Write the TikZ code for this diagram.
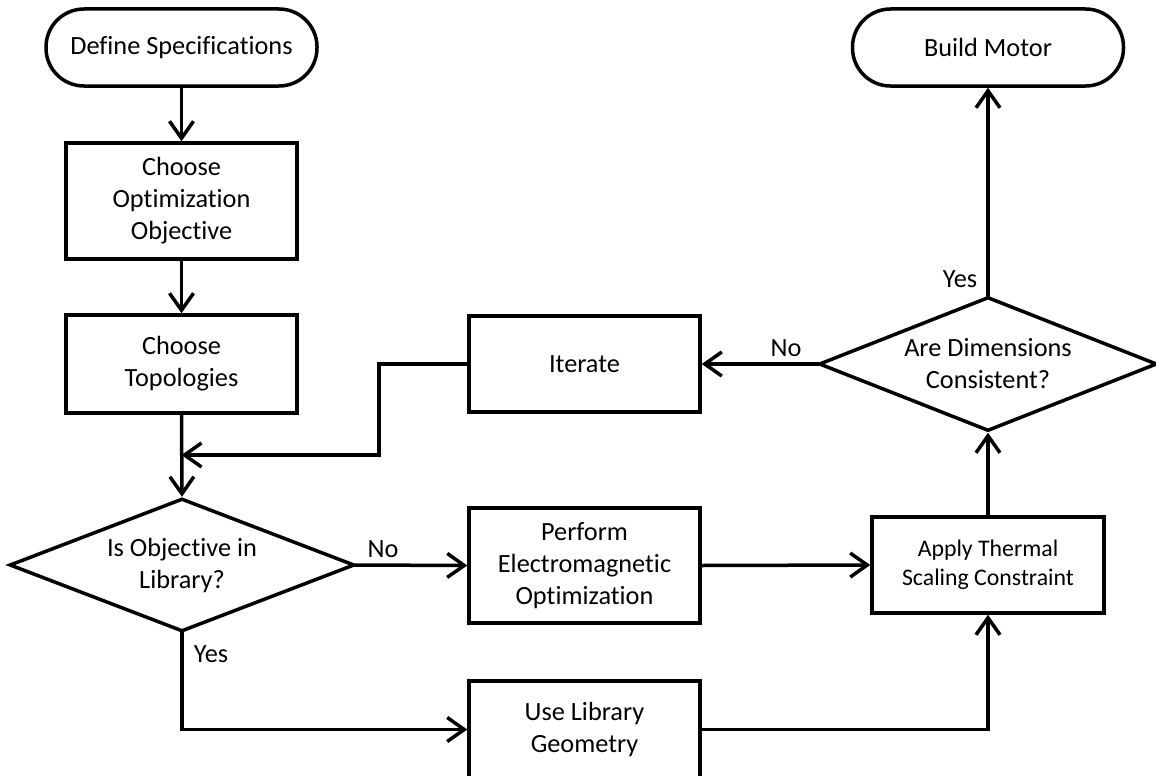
\documentclass[tikz,border=0pt]{standalone}
\usepackage{fontspec}
\setmainfont{Carlito}[Ligatures={NoCommon}]
\usetikzlibrary{shapes.geometric,arrows.meta}
\begin{document}
\begin{tikzpicture}[x=1pt,y=-1pt,
  every node/.style={font=\fontsize{26.3}{32}\selectfont, align=center, inner sep=0pt},
  base/.style={draw=black, line width=3.5pt, fill=white},
  proc/.style={base, rectangle, minimum width=231pt},
  term/.style={base, rectangle, rounded corners=38pt, minimum width=271pt, minimum height=77pt},
  dia/.style={base, diamond},
  arr/.style={line width=3.5pt, line cap=rect, -{Straight Barb[length=17pt, width=24pt, line width=3.5pt]}},
  small/.style={font=\fontsize{23.8}{28.5}\selectfont},
  lbl/.style={font=\fontsize{26.3}{32}\selectfont}
]
\useasboundingbox (0,0) rectangle (1156,776);
\clip (0,0) rectangle (1156,776);

% left column
\node[term] (spec) at (181.5,47.5) {Define Specifications};
\node[proc, minimum height=116pt] (obj) at (181.5,201) {Choose\\Optimization\\Objective};
\node[proc, minimum height=98pt] (topo) at (181.5,364) {Choose\\Topologies};
\node[dia, minimum width=345pt, minimum height=133pt] (lib) at (182,565) {};
\node at (lib) {Is Objective in\\Library?};

% middle column
\node[proc, minimum height=96pt] (iter) at (584.5,364) {Iterate};
\node[proc, minimum height=115pt] (em) at (584.5,565.5) {Perform\\Electromagnetic\\Optimization};
\node[proc, minimum height=97pt] (geo) at (584.5,729.5) {Use Library\\Geometry};

% right column
\node[term] (build) at (988,47.5) {Build Motor};
\node[dia, minimum width=338pt, minimum height=134pt] (dims) at (988,364) {};
\node at (dims) {Are Dimensions\\Consistent?};
\node[proc, small, minimum width=232pt, minimum height=96pt] (therm) at (988,565) {Apply Thermal\\Scaling Constraint};

% connectors
\coordinate (bend) at (379,455);
\draw[arr] (spec.south) -- (obj.north);
\draw[arr] (obj.south) -- (topo.north);
\draw[arr] (topo.south) -- (lib.north);
\draw[arr] (iter.west) -| (bend) -- (bend -| topo.south);
\draw[arr] (lib.east) -- (em.west);
\draw[arr] (lib.south) |- (geo.west);
\draw[arr] (em.east) -- (therm.west);
\draw[arr] (geo.east) -| (therm.south);
\draw[arr] (therm.north) -- (dims.south);
\draw[arr] (dims.west) -- (iter.east);
\draw[arr] (dims.north) -- (build.south);

% branch labels
\node[lbl] (noA) at (383,549) {No};
\node[lbl] (yesA) at (211,654) {Yes};
\node[lbl] (noB) at (786,348) {No};
\node[lbl] (yesB) at (960,279) {Yes};
\end{tikzpicture}
\end{document}
